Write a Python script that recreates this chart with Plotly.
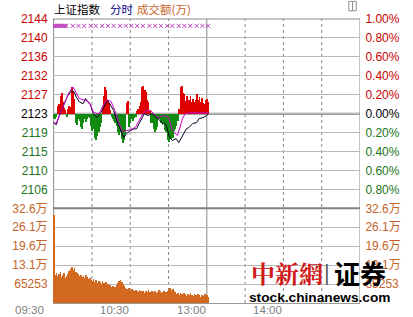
import plotly.graph_objects as go

# ---------------- data ----------------
prev_close = 2123.5
pct_ticks = [1.0, 0.8, 0.6, 0.4, 0.2, 0.0, -0.2, -0.4, -0.6, -0.8]
price_labels = ["2144", "2140", "2136", "2132", "2127", "2123", "2119", "2115", "2110", "2106"]
pct_labels = ["1.00%", "0.80%", "0.60%", "0.40%", "0.20%", "0.00%", "0.20%", "0.40%", "0.60%", "0.80%"]

vol_max = 32.6265  # 万
vol_ticks = [32.6265, 26.1012, 19.5759, 13.0506, 6.5253]
vol_labels = ["32.6万", "26.1万", "19.6万", "13.1万", "65253"]

time_labels = ["09:30", "10:30", "13:00", "14:00"]
time_label_pos = [0, 60, 120, 180]
grid_dotted = [30, 60, 90, 150, 180, 210]
grid_solid = [0, 120, 240]

price_min = [0, 2, 5, 8, 11, 14, 16, 18, 20, 23, 25, 27, 29, 31, 34, 37, 40, 42, 44, 47,
             50, 53, 55, 57, 60, 63, 65, 67, 69, 71, 74, 77, 80, 82, 85, 88, 91, 93, 96, 98,
             100, 102, 104, 106, 109, 112, 114, 117, 120, 121]
price_val = [2121.5, 2121.0, 2123.5, 2125.7, 2127.5, 2128.6, 2128.4, 2127.1, 2126.2, 2125.7,
             2126.9, 2126.0, 2125.5, 2123.5, 2122.6, 2123.7, 2125.5, 2126.4, 2125.7, 2124.2,
             2121.5, 2119.3, 2118.1, 2119.0, 2119.7, 2120.1, 2120.1, 2121.3, 2122.4, 2123.5,
             2123.1, 2123.5, 2122.8, 2122.2, 2121.5, 2121.0, 2118.1, 2117.5, 2117.9, 2117.0,
             2118.1, 2119.3, 2120.1, 2120.4, 2121.3, 2121.5, 2122.4, 2122.6, 2123.1, 2123.5]

avg_min = [0, 2, 5, 9, 12, 15, 17, 20, 23, 26, 28, 31, 34, 36, 39, 42, 45, 48, 51, 54,
           57, 60, 64, 67, 70, 73, 76, 79, 82, 86, 90, 93, 97, 101, 103, 107, 115, 121]
avg_val = [2121.5, 2121.3, 2123.5, 2126.4, 2128.2, 2129.5, 2128.6, 2126.9, 2126.6, 2126.4,
           2126.0, 2123.9, 2123.5, 2123.7, 2125.5, 2126.6, 2126.2, 2124.2, 2121.5, 2119.5,
           2119.7, 2119.9, 2120.4, 2121.9, 2123.5, 2124.2, 2124.2, 2123.3, 2122.6, 2123.1,
           2122.6, 2119.7, 2118.6, 2122.4, 2123.5, 2123.7, 2123.7, 2123.7]

# buy/sell strength bars, offsets from previous close (index points), one per minute
strength = [-0.9, -1.3, -0.7, 1.8, 2.2, 4.0, 4.7, 2.7, 1.3, 0.9,
            -0.7, 1.1, 1.8, 1.6, 6.0, 4.9, 3.4, -2.0, -2.5, -1.1,
            -1.6, -2.9, -3.4, -2.2, -1.3, -1.8, -1.1, -0.7, -0.9, -2.7,
            -3.8, -3.4, -5.4, -6.0, -4.9, -4.2, -3.1, -2.0, 1.3, 4.0,
            6.0, 5.4, 3.1, 2.2, 0.9, -0.7, -1.1, -1.6, -2.0, -2.7,
            -4.0, -4.7, -4.2, -5.6, -6.5, -6.0, -4.5, 2.5, 2.9, -3.1,
            -2.2, -1.3, -1.6, -0.9, -0.7, 0.7, 1.1, 1.8, 2.7, 6.0,
            6.3, 5.4, 4.9, 3.1, 2.7, 0.9, -2.0, -2.2, -3.4, -4.2,
            -3.6, -2.9, -1.1, -1.3, -2.0, -2.5, -2.2, -3.6, -4.0, -5.8,
            -6.3, -5.6, -5.8, -5.4, -3.8, -3.4, -2.7, -1.6, 1.1, 6.0,
            6.3, 4.6, 4.5, 2.9, 4.0, 2.5, 3.1, 4.0, 2.6, 3.4,
            2.7, 3.1, 4.5, 3.0, 3.8, 2.7, 3.6, 2.4, 2.2, 3.1,
            3.4, 2.7]

# turnover per minute (万)
volume = [30.2,
          9.6, 10.3, 9.3, 10.0, 10.6, 8.9, 9.6, 10.3, 8.6, 9.3, 10.0,
          11.0, 11.7, 12.4, 11.3, 12.0, 10.6, 10.3,
          10.0, 9.3, 9.6, 8.9, 9.3, 8.6, 9.6, 8.9, 8.2, 8.6, 7.9,
          7.6, 8.2, 7.2, 7.9, 6.9, 7.6, 7.2, 6.5, 7.6, 6.9, 6.2, 7.2,
          6.5, 5.8, 6.2, 5.5, 5.8, 5.2, 5.5, 6.2,
          6.9, 7.6, 7.9, 7.2, 6.5, 5.8,
          5.2, 4.8, 4.5, 5.2, 4.1, 4.8, 4.5, 4.1, 4.5,
          4.1, 3.8, 4.5, 4.1, 3.8, 4.1, 3.4, 4.1, 3.8, 4.5, 3.8, 3.4, 4.1, 3.8, 4.1,
          3.4, 3.8, 4.5, 4.1, 3.4, 3.8, 4.1, 3.4, 3.8, 4.1,
          4.8, 5.2, 4.5, 4.8, 4.1,
          3.8, 3.1, 3.4, 2.7, 3.4, 3.1, 2.7, 3.4, 3.1, 2.4, 3.1, 2.7, 3.4, 2.7,
          2.4, 3.1, 2.7, 2.4, 3.1, 2.7, 2.1, 2.7, 2.4, 3.1, 2.4, 2.7, 2.1]

signal_min = [0, 1, 2, 3, 4, 5, 6, 7, 8, 9, 10, 15, 19.5, 24, 29, 33, 38, 42.5, 47, 52,
              56.5, 61, 65.5, 70, 75, 79.5, 84, 89, 93, 98, 102.5, 107, 112, 116.5, 121]
signal_level = 2143.2

# ---------------- styles ----------------
RED = "#c80000"
GREEN = "#1a741a"
ORANGE = "#c5642a"
FONT = "Liberation Sans, Arial, Noto Sans CJK SC, sans-serif"
CJK = "Noto Sans CJK SC, sans-serif"

price_tickvals = [prev_close * (1 + p / 100) for p in pct_ticks]


def lab_color(p):
    return RED if p > 0 else ("#000000" if p == 0 else GREEN)


left_text = [f"<span style='color:{lab_color(p)}'>{t}</span>" for p, t in zip(pct_ticks, price_labels)]
right_text = [f"<span style='color:{lab_color(p)}'>{t}</span>" for p, t in zip(pct_ticks, pct_labels)]

minutes = list(range(len(strength)))
up_x = [m for m, s in zip(minutes, strength) if s > 0]
up_y = [s for s in strength if s > 0]
dn_x = [m for m, s in zip(minutes, strength) if s < 0]
dn_y = [s for s in strength if s < 0]

BW = 0.6
fig = go.Figure()
fig.add_trace(go.Bar(x=up_x, y=up_y, base=prev_close, width=BW, offset=0,
                     marker=dict(color="#e00000", line=dict(width=0)), yaxis="y", hoverinfo="skip"))
fig.add_trace(go.Bar(x=dn_x, y=dn_y, base=prev_close, width=BW, offset=0,
                     marker=dict(color="#108a10", line=dict(width=0)), yaxis="y", hoverinfo="skip"))
fig.add_trace(go.Bar(x=list(range(len(volume))), y=volume, width=BW, offset=0,
                     marker=dict(color="#d2691e", line=dict(width=0)), yaxis="y2", hoverinfo="skip"))
fig.add_trace(go.Scatter(x=price_min, y=price_val, mode="lines", line=dict(color="#000020", width=1), yaxis="y"))
fig.add_trace(go.Scatter(x=avg_min, y=avg_val, mode="lines", line=dict(color="#cc00cc", width=1), yaxis="y"))
fig.add_trace(go.Scatter(x=signal_min, y=[signal_level] * len(signal_min), mode="markers",
                         marker=dict(symbol="x-thin", size=4, line=dict(color="#c040c0", width=1)), yaxis="y"))
# helper traces so the right-hand axes render
fig.add_trace(go.Scatter(x=[0], y=[prev_close], mode="markers", marker=dict(opacity=0), yaxis="y3", hoverinfo="skip"))
fig.add_trace(go.Scatter(x=[0], y=[0], mode="markers", marker=dict(opacity=0), yaxis="y4", hoverinfo="skip"))

price_range = [prev_close * 0.99, prev_close * 1.01]
split = 1 / 3

shapes = []
for g in grid_dotted:
    shapes.append(dict(type="line", xref="x", yref="paper", x0=g, x1=g, y0=0, y1=1,
                       line=dict(color="#8a8a8a", width=1, dash="dot"), layer="below"))
for g in grid_solid:
    shapes.append(dict(type="line", xref="x", yref="paper", x0=g, x1=g, y0=0, y1=1,
                       line=dict(color="#8a8a8a", width=1), layer="below"))
shapes.append(dict(type="line", xref="paper", yref="paper", x0=0, x1=1, y0=1, y1=1,
                   line=dict(color="#8a8a8a", width=1), layer="below"))
shapes.append(dict(type="line", xref="paper", yref="y", x0=0, x1=1, y0=prev_close, y1=prev_close,
                   line=dict(color="#808080", width=2), layer="below"))
shapes.append(dict(type="line", xref="paper", yref="paper", x0=0, x1=1, y0=split, y1=split,
                   line=dict(color="#808080", width=2), layer="below"))
# small window icon at top right
shapes.append(dict(type="rect", xref="paper", yref="paper", x0=0.9635, x1=0.9878, y0=1.029, y1=1.062,
                   line=dict(color="#909090", width=1)))
shapes.append(dict(type="line", xref="paper", yref="paper", x0=0.9757, x1=0.9757, y0=1.029, y1=1.062,
                   line=dict(color="#909090", width=1)))

annotations = []
for t, p in zip(time_labels, time_label_pos):
    annotations.append(dict(text=t, x=p, xref="x", y=0, yref="paper", xanchor="right", yanchor="middle",
                            xshift=-9 if p == 0 else 0, yshift=-7, showarrow=False, borderpad=0,
                            font=dict(family=FONT, size=11.5, color="#808080")))
annotations += [
    dict(text="上证指数", x=0.0, xref="paper", y=1.0, yref="paper", xanchor="left", yanchor="middle",
         yshift=10, showarrow=False, borderpad=0, font=dict(family=CJK, size=11.5, color="#000000")),
    dict(text="分时", x=0.182, xref="paper", y=1.0, yref="paper", xanchor="left", yanchor="middle",
         yshift=10, showarrow=False, borderpad=0, font=dict(family=CJK, size=11.5, color="#000080")),
    dict(text="成交额(万)", x=0.271, xref="paper", y=1.0, yref="paper", xanchor="left", yanchor="middle",
         yshift=10, showarrow=False, borderpad=0, font=dict(family=CJK, size=11.5, color=ORANGE)),
    dict(text="<b>中新網</b>", x=0.763, xref="paper", y=0.109, yref="paper", xanchor="center", yanchor="middle",
         showarrow=False, font=dict(family="Noto Serif CJK SC, Noto Sans CJK SC, serif", size=24, color="#d01818")),
    dict(text="|", x=0.894, xref="paper", y=0.109, yref="paper", xanchor="center", yanchor="middle",
         showarrow=False, font=dict(family=FONT, size=22, color="#606060")),
    dict(text="<b>证券</b>", x=1.0, xref="paper", y=0.109, yref="paper", xanchor="center", yanchor="middle",
         showarrow=False, font=dict(family=CJK, size=26, color="#000000")),
    dict(text="<b>stock.chinanews.com</b>", x=0.871, xref="paper", y=0.021, yref="paper", xanchor="center",
         yanchor="middle", showarrow=False, font=dict(family=FONT, size=13.7, color="#000000")),
]

axis_common = dict(zeroline=False, ticks="outside", ticklen=2, tickcolor="rgba(0,0,0,0)",
                   tickfont=dict(family=FONT, size=12), fixedrange=True)

fig.update_layout(
    width=413, height=317, margin=dict(l=43, r=41, t=18, b=14),
    paper_bgcolor="white", plot_bgcolor="white", showlegend=False,
    barmode="overlay", bargap=0, hovermode=False,
    xaxis=dict(domain=[0, 1], range=[-0.5, 240], anchor="y2", showgrid=False, zeroline=False,
               showticklabels=False, showline=True, linecolor="#9a9a9a", ticks="", fixedrange=True),
    yaxis=dict(domain=[split, 1], range=price_range, anchor="x", tickvals=price_tickvals, ticktext=left_text,
               showgrid=True, gridcolor="#b8b8b8", gridwidth=1, side="left", **axis_common),
    yaxis3=dict(overlaying="y", side="right", anchor="x", range=price_range, tickvals=price_tickvals,
                ticktext=right_text, showgrid=False, **axis_common),
    yaxis2=dict(domain=[0, split], range=[0, vol_max], anchor="x", tickvals=vol_ticks, ticktext=vol_labels,
                showgrid=True, gridcolor="#b8b8b8", gridwidth=1, side="left", color=ORANGE, **axis_common),
    yaxis4=dict(overlaying="y2", side="right", anchor="x", range=[0, vol_max], tickvals=vol_ticks,
                ticktext=vol_labels, showgrid=False, color=ORANGE, **axis_common),
    shapes=shapes, annotations=annotations,
)

fig.write_html("out.html")
